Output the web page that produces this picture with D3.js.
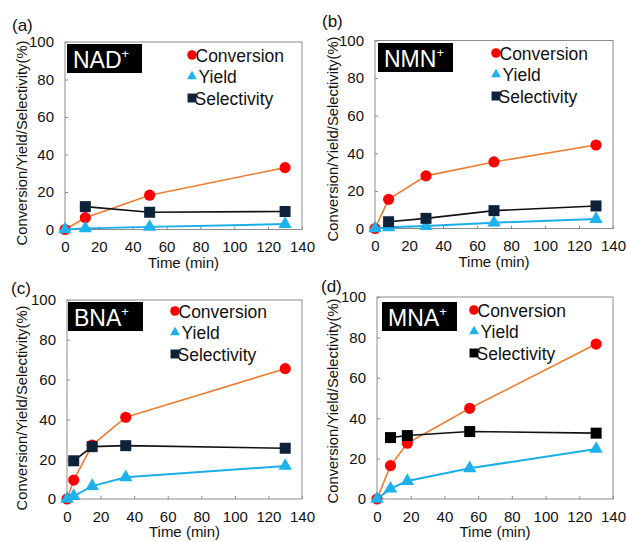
<!DOCTYPE html>
<html>
<head>
<meta charset="utf-8">
<script src="https://cdn.jsdelivr.net/npm/d3@7"></script>
<style>
  body { margin: 0; background: #fff; }
  svg text { font-family: "Liberation Sans", Arial, sans-serif; fill: #111; }
</style>
</head>
<body>
<svg id="chart" width="627" height="542"></svg>
<script>
// chart values
const panelTags = ['(a)', '(b)', '(c)', '(d)'];
const compounds = ['NAD', 'NMN', 'BNA', 'MNA'];
const seriesNames = ['Conversion', 'Yield', 'Selectivity'];
const xTicks = [0, 20, 40, 60, 80, 100, 120, 140];
const yTicks = [0, 20, 40, 60, 80, 100];

const timeNAD = [0, 12, 50, 130];
const convNAD = [0, 6.3, 18.3, 33];
const yieldNAD = [0, 0.6, 1.4, 2.9];
const selNAD = [null, 12.2, 9.2, 9.6];

const timeNMN = [0, 8, 30, 70, 130];
const convNMN = [0, 15.5, 28, 35.4, 44.4];
const yieldNMN = [0, 0.6, 1.3, 3.1, 5];
const selNMN = [null, 3.6, 5.4, 9.5, 12];

const timeBNA = [0, 4, 15, 35, 130];
const convBNA = [0, 9.5, 27.1, 41.1, 65.5];
const yieldBNA = [0, 1.5, 6.5, 10.9, 16.6];
const selBNA = [null, 19.2, 26.3, 26.8, 25.5];

const timeMNA = [0, 8, 18, 55, 130];
const convMNA = [0, 16.5, 27.6, 44.9, 76.7];
const yieldMNA = [0, 5.1, 8.9, 15.2, 24.8];
const selMNA = [null, 30.4, 31.4, 33.4, 32.6];

const panelData = [
  { time: timeNAD, series: [convNAD, yieldNAD, selNAD] },
  { time: timeNMN, series: [convNMN, yieldNMN, selNMN] },
  { time: timeBNA, series: [convBNA, yieldBNA, selBNA] },
  { time: timeMNA, series: [convMNA, yieldMNA, selMNA] }
];

// where each panel sits on the page
const layout = [
  { left: 65, right: 302, top: 42, bottom: 229.5, tag: [12, 31], ylab: [22, 143], box: [67, 44], legend: [192, 55], selFill: '#0e2239' },
  { left: 375, right: 613, top: 40.5, bottom: 228.5, tag: [322, 27], ylab: [332.5, 139], box: [378, 43], legend: [496, 53], selFill: '#0e2239' },
  { left: 67, right: 302, top: 300, bottom: 499, tag: [11, 294], ylab: [22, 408], box: [68, 302], legend: [175, 311], selFill: '#0e2239' },
  { left: 377, right: 613, top: 297, bottom: 499, tag: [321, 292], ylab: [333, 401], box: [382, 302], legend: [474, 310], selFill: '#000000' }
];

const lineColors = ['#ed7d31', '#1aaee8', '#111111'];
const svg = d3.select('#chart');

function markerPath(i, big) {
  const types = [d3.symbolCircle, d3.symbolTriangle, d3.symbolSquare];
  const sizes = big ? [98, 78, 121] : [72, 42, 80];
  return d3.symbol().type(types[i]).size(sizes[i])();
}

panelData.forEach((pd, p) => {
  const L = layout[p];
  const markerFills = ['#ff0000', '#1db2ee', L.selFill];

  const x = d3.scaleLinear().domain([0, 140]).range([L.left, L.right]);
  const y = d3.scaleLinear().domain([0, 100]).range([L.bottom, L.top]);

  const g = svg.append('g');

  // plot frame
  g.append('rect')
    .attr('x', L.left).attr('y', L.top)
    .attr('width', L.right - L.left).attr('height', L.bottom - L.top)
    .attr('fill', 'none').attr('stroke', '#8c8c8c').attr('stroke-width', 1);

  // axes with inward ticks
  const xAxis = g.append('g')
    .attr('transform', `translate(0,${L.bottom})`)
    .call(d3.axisBottom(x).tickValues(xTicks).tickSize(-3).tickPadding(12));
  const yAxis = g.append('g')
    .attr('transform', `translate(${L.left},0)`)
    .call(d3.axisLeft(y).tickValues(yTicks).tickSize(-3).tickPadding(11));
  [xAxis, yAxis].forEach(a => {
    a.select('.domain').remove();
    a.selectAll('line').attr('stroke', '#8c8c8c');
    a.selectAll('text').style('font-size', '15px').attr('fill', '#111');
  });

  // axis titles
  g.append('text')
    .attr('x', (L.left + L.right) / 2).attr('y', L.bottom + 38)
    .attr('text-anchor', 'middle')
    .style('font-size', '15px')
    .text('Time (min)');
  g.append('text')
    .attr('transform', `translate(${L.ylab[0]},${L.ylab[1]}) rotate(-90)`)
    .attr('text-anchor', 'middle')
    .attr('dy', '0.35em')
    .style('font-size', '14.8px')
    .text('Conversion/Yield/Selectivity(%)');

  // panel tag
  g.append('text')
    .attr('x', L.tag[0]).attr('y', L.tag[1])
    .style('font-size', '17px')
    .text(panelTags[p]);

  // compound name box
  g.append('rect')
    .attr('x', L.box[0]).attr('y', L.box[1])
    .attr('width', 75).attr('height', 29)
    .attr('fill', '#000');
  const name = g.append('text')
    .attr('x', L.box[0] + 6).attr('y', L.box[1] + 23.5)
    .style('font-size', '23px');
  name.append('tspan').style('fill', '#fff').text(compounds[p]);
  name.append('tspan').style('fill', '#fff').attr('dy', -10)
    .style('font-size', '13px').text('+');

  // series
  pd.series.forEach((vals, s) => {
    const pts = pd.time.map((t, k) => ({ t: t, v: vals[k] })).filter(d => d.v != null);
    const line = d3.line().x(d => x(d.t)).y(d => y(d.v));
    g.append('path')
      .datum(pts)
      .attr('fill', 'none')
      .attr('stroke', lineColors[s])
      .attr('stroke-width', s === 1 ? 2 : 1.6)
      .attr('d', line);
    g.selectAll(null)
      .data(pts)
      .enter().append('path')
      .attr('transform', d => `translate(${x(d.t)},${y(d.v)})`)
      .attr('d', markerPath(s, true))
      .attr('fill', markerFills[s]);
  });

  // legend
  const textOffsets = [3.5, 6.5, 2.5];
  seriesNames.forEach((nm, s) => {
    const ly = L.legend[1] + s * 21.5;
    g.append('path')
      .attr('transform', `translate(${L.legend[0]},${ly})`)
      .attr('d', markerPath(s, false))
      .attr('fill', markerFills[s]);
    g.append('text')
      .attr('x', L.legend[0] + textOffsets[s]).attr('y', ly + 6.5)
      .style('font-size', '17.5px')
      .text(nm);
  });
});
</script>
</body>
</html>
